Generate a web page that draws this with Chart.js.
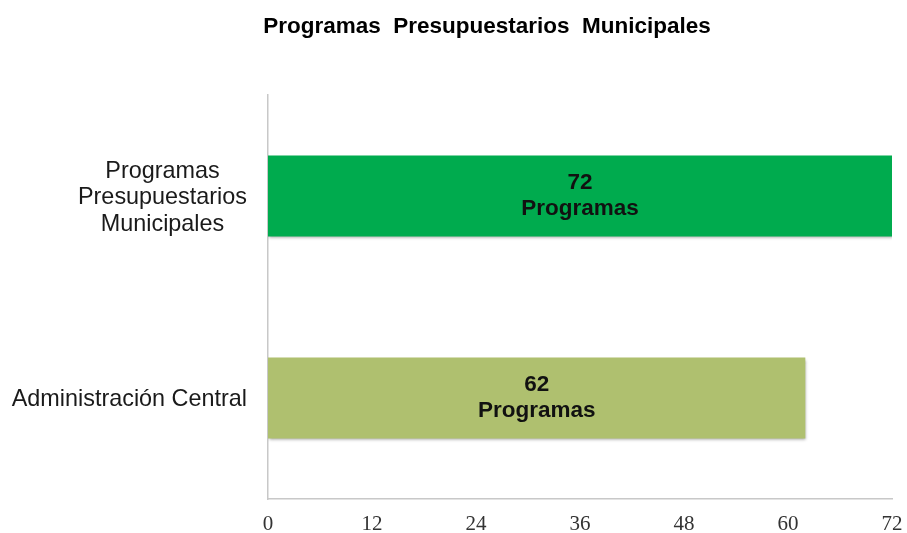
<!DOCTYPE html>
<html>
<head>
<meta charset="utf-8">
<script src="https://cdn.jsdelivr.net/npm/chart.js@4/dist/chart.umd.min.js"></script>
<style>
html,body{margin:0;padding:0;background:#fff;}
#wrap{width:907px;height:533px;}
</style>
</head>
<body>
<div id="wrap"><canvas id="c" width="907" height="533"></canvas></div>
<script>
const titleText = 'Programas  Presupuestarios  Municipales';
const categories = [['Programas', 'Presupuestarios', 'Municipales'], 'Administración Central'];
const values = [72, 62];
const barLabels = [['72', 'Programas'], ['62', 'Programas']];
const barColors = ['#00AB4E', '#AFC06F'];
const tickValues = [0, 12, 24, 36, 48, 60, 72];

const yLabelPlugin = {
  id: 'yLabels',
  afterDraw(chart) {
    const ctx = chart.ctx;
    const ys = chart.scales.y;
    ctx.save();
    ctx.font = '23.4px "Liberation Sans", Arial, sans-serif';
    ctx.fillStyle = '#1a1a1a';
    ctx.textAlign = 'center';
    ctx.textBaseline = 'middle';
    const lh = 26.5;
    categories.forEach((lab, i) => {
      const lines = Array.isArray(lab) ? lab : [lab];
      const widest = Math.max(...lines.map(l => ctx.measureText(l).width));
      const x = ys.right - 21 - widest / 2;
      const yc = ys.getPixelForTick(i) + 2;
      lines.forEach((l, j) => {
        ctx.fillText(l, x, yc + (j - (lines.length - 1) / 2) * lh);
      });
    });
    ctx.restore();
  }
};

const barTextPlugin = {
  id: 'barText',
  beforeDatasetsDraw(chart) {
    const ctx = chart.ctx;
    ctx.save();
    ctx.shadowColor = 'rgba(0,0,0,0.35)';
    ctx.shadowBlur = 3;
    ctx.shadowOffsetX = 1;
    ctx.shadowOffsetY = 2;
  },
  afterDatasetsDraw(chart) {
    const ctx = chart.ctx;
    ctx.restore();
    const meta = chart.getDatasetMeta(0);
    ctx.save();
    ctx.font = 'bold 22.5px "Liberation Sans", Arial, sans-serif';
    ctx.fillStyle = '#111';
    ctx.textAlign = 'center';
    ctx.textBaseline = 'middle';
    meta.data.forEach((el, i) => {
      const x = (el.base + el.x) / 2;
      const lines = barLabels[i];
      lines.forEach((l, j) => {
        ctx.fillText(l, x, el.y + (j - (lines.length - 1) / 2) * 26);
      });
    });
    ctx.restore();
  }
};

new Chart(document.getElementById('c'), {
  type: 'bar',
  data: {
    labels: categories,
    datasets: [{
      data: values,
      backgroundColor: barColors,
      borderWidth: 0,
      barPercentage: 0.4,
      categoryPercentage: 1
    }]
  },
  options: {
    indexAxis: 'y',
    responsive: false,
    animation: false,
    devicePixelRatio: 1,
    layout: { padding: { left: 82, right: 15, top: 0, bottom: 0 } },
    plugins: {
      legend: { display: false },
      tooltip: { enabled: false },
      title: {
        display: true,
        text: titleText,
        color: '#000',
        font: { family: '"Liberation Sans", Arial, sans-serif', size: 22.5, weight: 'bold', lineHeight: 1.2 },
        padding: { top: 13.5, bottom: 54.5 }
      }
    },
    scales: {
      x: {
        min: 0,
        max: 72,
        afterBuildTicks(scale) { scale.ticks = tickValues.map(v => ({ value: v })); },
        afterFit(scale) {
          scale.height = 34;
          scale.paddingLeft = 0; scale.paddingRight = 0;
          scale.paddingTop = 0; scale.paddingBottom = 0;
        },
        grid: { display: false, drawTicks: false },
        border: { display: true, color: '#c8c8c8', width: 1.5 },
        ticks: {
          padding: 15,
          color: '#333',
          font: { family: '"Liberation Serif", "Times New Roman", serif', size: 21, lineHeight: 1 }
        }
      },
      y: {
        afterFit(scale) {
          scale.width = 186;
          scale.paddingLeft = 0; scale.paddingRight = 0;
          scale.paddingTop = 0; scale.paddingBottom = 0;
        },
        grid: { display: false, drawTicks: false },
        border: { display: true, color: '#c8c8c8', width: 1.5 },
        ticks: {
          color: 'rgba(0,0,0,0)',
          font: { family: '"Liberation Sans", Arial, sans-serif', size: 20 }
        }
      }
    }
  },
  plugins: [yLabelPlugin, barTextPlugin]
});
</script>
</body>
</html>
